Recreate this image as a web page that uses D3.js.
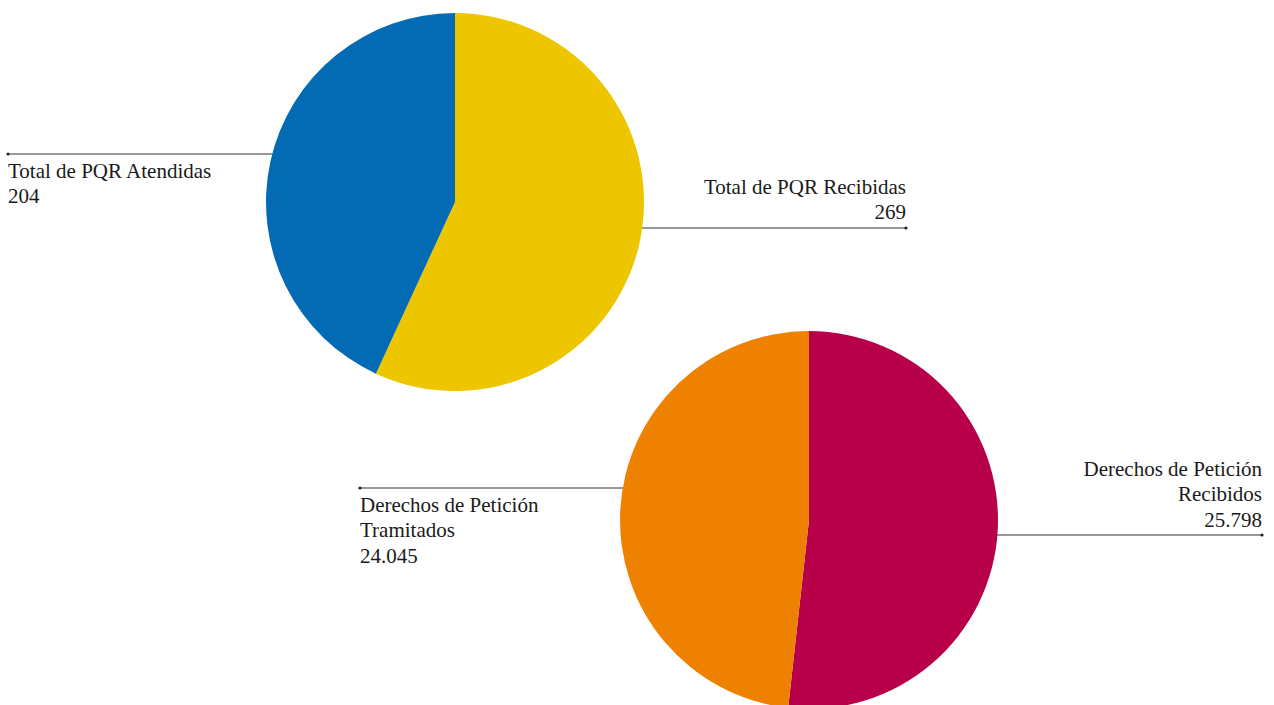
<!DOCTYPE html>
<html><head><meta charset="utf-8">
<script src="https://cdn.jsdelivr.net/npm/d3@7"></script>
<style>
html,body{margin:0;padding:0;background:#fff;overflow:hidden;}
</style></head>
<body>
<svg id="c" width="1274" height="705"></svg>
<script>
// Data
const pqrLabels = ["Total de PQR Recibidas", "Total de PQR Atendidas"];
const pqrValues = [269, 204];
const pqrColors = ["#EDC600", "#036BB3"];

const dpLabels = ["Derechos de Petición Recibidos", "Derechos de Petición Tramitados"];
const dpValues = [25798, 24045];
const dpColors = ["#B8004A", "#EE8100"];

const fmt = v => d3.format(",")(v).replace(/,/g, ".");

const svg = d3.select("#c");
const R = 189;

function drawPie(cx, cy, values, colors) {
  const pie = d3.pie().sort(null)(values);
  const arc = d3.arc().innerRadius(0).outerRadius(R);
  const g = svg.append("g").attr("transform", `translate(${cx},${cy})`);
  g.selectAll("path").data(pie).enter().append("path")
    .attr("d", arc).attr("fill", (d, i) => colors[i]);
}

function leader(x1, x2, y, dotX) {
  svg.append("line").attr("x1", x1).attr("x2", x2).attr("y1", y).attr("y2", y)
    .attr("stroke", "#333").attr("stroke-width", 1.2);
  svg.append("circle").attr("cx", dotX).attr("cy", y).attr("r", 1.6).attr("fill", "#222");
}

function label(x, y0, lines, anchor) {
  lines.forEach((s, i) => {
    svg.append("text")
      .attr("x", x).attr("y", y0 + i * 25.8)
      .attr("text-anchor", anchor)
      .attr("font-family", "Liberation Serif")
      .attr("font-size", 21)
      .attr("fill", "#1a1a1a")
      .text(s);
  });
}

// leader lines first (behind pies)
leader(8, 300, 154, 8);
leader(620, 906, 228, 906);
leader(360, 650, 488, 360);
leader(970, 1262, 535, 1262);

drawPie(455, 202, pqrValues, pqrColors);
drawPie(809, 520, dpValues, dpColors);

label(8, 177.5, [pqrLabels[1], fmt(pqrValues[1])], "start");
label(906, 193.5, [pqrLabels[0], fmt(pqrValues[0])], "end");
label(360, 511.5, ["Derechos de Petición", "Tramitados", fmt(dpValues[1])], "start");
label(1262, 475.5, ["Derechos de Petición", "Recibidos", fmt(dpValues[0])], "end");
</script>
</body></html>
